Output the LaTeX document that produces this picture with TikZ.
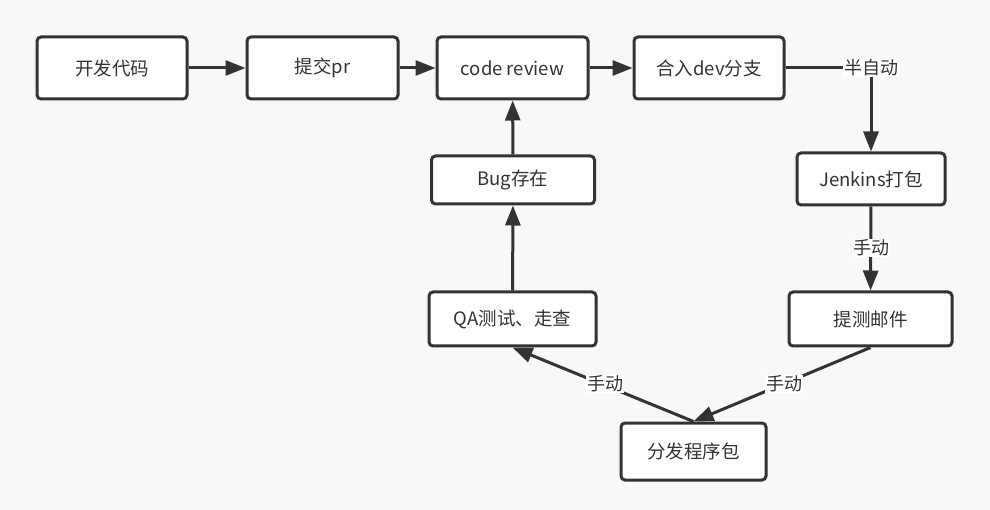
\documentclass[tikz,border=0pt]{standalone}
\usepackage{fontspec}
\setmainfont{Noto Sans CJK SC}
\usetikzlibrary{arrows.meta}
\definecolor{bg}{HTML}{F8F8F8}
\definecolor{ink}{HTML}{333333}
\begin{document}
\begin{tikzpicture}[x=1pt,y=-1pt,
  box/.style={draw=ink,line width=3pt,fill=white,rounded corners=4pt,text=ink,font=\fontsize{18.5}{22}\selectfont,inner sep=0pt},
  conn/.style={draw=ink,line width=3pt,-{Triangle[length=20pt,width=15pt]}},
  lbl/.style={fill=white,text=ink,font=\fontsize{18}{22}\selectfont,inner sep=1pt}]
\fill[bg] (0,0) rectangle (990,510);
\useasboundingbox (0,0) rectangle (990,510);
\node[box,minimum width=150pt,minimum height=62pt] (dev) at (112,68) {开发代码};
\node[box,minimum width=151pt,minimum height=62pt] (pr) at (322.5,68) {提交pr};
\node[box,minimum width=151pt,minimum height=62pt] (cr) at (512.5,68) {code review};
\node[box,minimum width=150pt,minimum height=62pt] (merge) at (709,68) {合入dev分支};
\node[box,minimum width=148pt,minimum height=52pt] (jk) at (871,179) {Jenkins打包};
\node[box,minimum width=163pt,minimum height=54pt] (mail) at (870.5,319) {提测邮件};
\node[box,minimum width=163pt,minimum height=48pt] (bug) at (513,180) {Bug存在};
\node[box,minimum width=167pt,minimum height=54pt] (qa) at (512.5,319) {QA测试、走查};
\node[box,minimum width=145pt,minimum height=57pt] (dist) at (693.5,451.5) {分发程序包};
\coordinate (corner) at (871,68);
\draw[conn] (dev) -- (pr);
\draw[conn] (pr) -- (cr);
\draw[conn] (cr) -- (merge);
\draw[conn] (merge.east) -- (corner) -- (jk.north);
\draw[conn] (jk) -- (mail);
\draw[conn] (mail.south) -- (dist.north);
\draw[conn] (dist.north) -- (qa.south);
\draw[conn] (qa) -- (bug);
\draw[conn] (bug) -- (cr);
\node[lbl] (l1) at (corner) {半自动};
\node[lbl] (l2) at (871,248) {手动};
\node[lbl] (l3) at (784,384) {手动};
\node[lbl] (l4) at (605,384) {手动};
\end{tikzpicture}
\end{document}
